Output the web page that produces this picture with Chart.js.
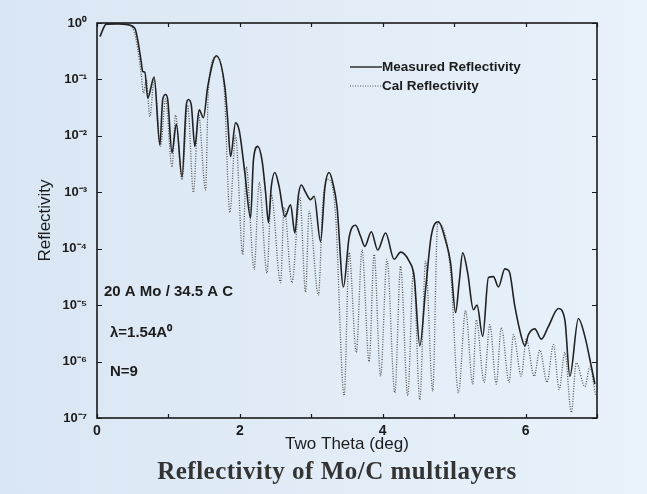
<!DOCTYPE html>
<html>
<head>
<meta charset="utf-8">
<script src="https://cdn.jsdelivr.net/npm/chart.js@4.4.0/dist/chart.umd.min.js"></script>
<style>
  html, body { margin: 0; padding: 0; background: #e2ecf6; }
  canvas { display: block; }
</style>
</head>
<body>
<canvas id="xrr" width="647" height="494"></canvas>
<script>
// two theta (deg) / reflectivity
const measTheta = [
  0.04, 0.13, 0.30, 0.43, 0.53, 0.57, 0.62, 0.64, 0.67, 0.71,
  0.80, 0.88, 0.92, 0.96, 0.99, 1.05, 1.11, 1.19, 1.25, 1.28,
  1.32, 1.37, 1.43, 1.49, 1.55, 1.67, 1.79, 1.83, 1.87, 1.94,
  1.99, 2.07, 2.15, 2.19, 2.25, 2.31, 2.36, 2.40, 2.44, 2.49,
  2.55, 2.63, 2.71, 2.77, 2.82, 2.86, 2.92, 2.99, 3.04, 3.13,
  3.19, 3.25, 3.30, 3.36, 3.45, 3.53, 3.62, 3.69, 3.75, 3.84,
  3.93, 4.04, 4.16, 4.25, 4.37, 4.44, 4.52, 4.60, 4.68, 4.78,
  4.88, 4.95, 5.02, 5.07, 5.12, 5.19, 5.27, 5.32, 5.40, 5.48,
  5.55, 5.62, 5.71, 5.77, 5.85, 5.94, 5.99, 6.04, 6.13, 6.22,
  6.32, 6.46, 6.55, 6.62, 6.74, 6.83, 6.90, 6.97];
const measR = [
  0.575, 0.955, 0.96, 0.93, 0.81, 0.5, 0.2, 0.138, 0.135, 0.047,
  0.11, 0.0069, 0.044, 0.054, 0.044, 0.005, 0.0162, 0.00186, 0.035, 0.044,
  0.035, 0.0065, 0.029, 0.021, 0.074, 0.263, 0.074, 0.019, 0.0043, 0.017,
  0.0126, 0.0022, 3.5e-4, 3.7e-3, 6.5e-3, 3.7e-3, 1e-3, 2.9e-4, 1.26e-3, 2.24e-3,
  1.26e-3, 3.7e-4, 6.0e-4, 1.9e-4, 8.9e-4, 1.35e-3, 1e-3, 7.4e-4, 8.5e-4, 1.35e-4,
  1.2e-3, 2.24e-3, 1.5e-3, 5.6e-4, 2.1e-5, 1.6e-4, 2.6e-4, 1.66e-4, 1.1e-4, 2.0e-4,
  9.5e-5, 1.9e-4, 6.5e-5, 8.7e-5, 6.0e-5, 3.2e-5, 1.9e-6, 1.9e-5, 1.7e-4, 3.0e-4,
  1.4e-4, 5.6e-5, 7.4e-6, 2.5e-5, 8.5e-5, 3.7e-5, 8.3e-6, 1e-5, 2.8e-6, 3.1e-5,
  3.2e-5, 2.1e-5, 4.4e-5, 4.0e-5, 9.5e-6, 2.8e-6, 1.9e-6, 3.0e-6, 3.8e-6, 2.5e-6,
  4.2e-6, 8.7e-6, 5.5e-6, 5.5e-7, 5.8e-6, 2.8e-6, 1.1e-6, 4.0e-7];

const calTheta = [
  0.05, 0.13, 0.30, 0.43, 0.52, 0.57, 0.62, 0.65, 0.69, 0.74,
  0.80, 0.89, 0.96, 1.05, 1.10, 1.19, 1.27, 1.35, 1.42, 1.52,
  1.56, 1.67, 1.78, 1.86, 1.94, 2.04, 2.09, 2.20, 2.27, 2.38,
  2.44, 2.57, 2.62, 2.73, 2.84, 2.92, 2.97, 3.10, 3.16, 3.22,
  3.28, 3.34, 3.46, 3.53, 3.63, 3.71, 3.81, 3.88, 3.97, 4.06,
  4.17, 4.25, 4.35, 4.43, 4.52, 4.60, 4.70, 4.77, 4.95, 5.06,
  5.16, 5.26, 5.31, 5.42, 5.50, 5.59, 5.66, 5.77, 5.83, 5.94,
  6.01, 6.12, 6.20, 6.30, 6.39, 6.47, 6.55, 6.64, 6.71, 6.83,
  6.90, 6.98];
const calR = [
  0.6, 0.96, 0.99, 0.95, 0.7, 0.35, 0.12, 0.057, 0.1, 0.022,
  0.1, 0.0066, 0.045, 0.0028, 0.0234, 0.00166, 0.035, 0.001, 0.025, 0.0011,
  0.07, 0.25, 0.07, 4.4e-4, 0.01, 7.9e-5, 0.0028, 4.3e-5, 0.0015, 3.7e-5,
  9e-4, 2.5e-5, 5.4e-4, 2.5e-5, 8e-4, 1.7e-5, 4.6e-4, 1.5e-5, 6e-4, 0.0017,
  1.5e-3, 4e-4, 2.5e-7, 8.5e-5, 1.45e-6, 9.5e-5, 1e-6, 7.9e-5, 5.5e-7, 6.5e-5,
  2.8e-7, 4.9e-5, 2.5e-7, 4e-5, 2.1e-7, 6e-5, 3e-7, 2.9e-4, 4e-5, 2.8e-7,
  8e-6, 4e-7, 5.5e-6, 4.3e-7, 4.5e-6, 4e-7, 4e-6, 4.3e-7, 3e-6, 5.5e-7,
  2.5e-6, 5.5e-7, 1.6e-6, 4.3e-7, 2e-6, 3.2e-7, 1.45e-6, 1.25e-7, 9.5e-7, 3.6e-7,
  8e-7, 2.5e-7];

const yTickValues = [1, 1e-1, 1e-2, 1e-3, 1e-4, 1e-5, 1e-6, 1e-7];
const yTickLabels = ["10⁰", "10⁻¹", "10⁻²", "10⁻³", "10⁻⁴", "10⁻⁵", "10⁻⁶", "10⁻⁷"];
const xTickLabels = { 0: "0", 2: "2", 4: "4", 6: "6" };
const seriesNames = ["Measured Reflectivity", "Cal Reflectivity"];
const sampleNotes = ["20 A Mo / 34.5 A C", "λ=1.54A⁰", "N=9"];
const bottomTitle = "Reflectivity of Mo/C multilayers";

const ink = "#1c1c1c";
const sans = "'Liberation Sans', Arial, sans-serif";

function toPoints(xs, ys) {
  return xs.map((x, i) => ({ x: x, y: ys[i] }));
}

// paper background, box frame, inward ticks, legend and notes
const paperPlugin = {
  id: "paper",
  beforeDraw(chart) {
    const c = chart.ctx;
    const g = c.createLinearGradient(0, 0, chart.width, 0);
    g.addColorStop(0, "#d9e6f3");
    g.addColorStop(1, "#e9f2fb");
    c.save();
    c.fillStyle = g;
    c.fillRect(0, 0, chart.width, chart.height);
    c.restore();
  },
  afterDraw(chart) {
    const c = chart.ctx;
    const a = chart.chartArea;
    const sx = chart.scales.x, sy = chart.scales.y;
    c.save();
    c.strokeStyle = "#1a1a1a";
    c.lineWidth = 1.6;
    c.strokeRect(a.left, a.top, a.right - a.left, a.bottom - a.top);

    c.lineWidth = 1.2;
    c.beginPath();
    sx.ticks.forEach(t => {
      const px = Math.round(sx.getPixelForValue(t.value)) + 0.5;
      c.moveTo(px, a.bottom); c.lineTo(px, a.bottom - 4);
      c.moveTo(px, a.top); c.lineTo(px, a.top + 4);
    });
    sy.ticks.forEach(t => {
      const py = Math.round(sy.getPixelForValue(t.value)) + 0.5;
      c.moveTo(a.left, py); c.lineTo(a.left + 5, py);
      c.moveTo(a.right, py); c.lineTo(a.right - 5, py);
    });
    c.stroke();

    // legend
    const ds = chart.data.datasets;
    c.font = "bold 13.5px " + sans;
    c.textBaseline = "middle";
    c.fillStyle = ink;
    [67, 86].forEach((ly, i) => {
      c.beginPath();
      c.strokeStyle = ds[i].borderColor;
      c.lineWidth = i === 0 ? 1.4 : 1.2;
      c.setLineDash(i === 0 ? [] : [1, 1.5]);
      c.moveTo(350, ly); c.lineTo(382, ly);
      c.stroke();
      c.setLineDash([]);
      c.fillText(seriesNames[i], 382, ly);
    });

    // sample notes
    c.font = "bold 15px " + sans;
    c.fillText(sampleNotes[0], 104, 292);
    c.fillText(sampleNotes[1], 110, 333);
    c.fillText(sampleNotes[2], 110, 372);

    // caption
    c.font = "bold 25px 'Liberation Serif', 'Times New Roman', serif";
    c.letterSpacing = "0.5px";
    c.fillStyle = "#333";
    c.textAlign = "center";
    c.fillText(bottomTitle, 337, 473);
    c.restore();
  }
};

new Chart(document.getElementById("xrr"), {
  type: "line",
  data: {
    datasets: [
      {
        label: seriesNames[0],
        data: toPoints(measTheta, measR),
        borderColor: "#222",
        borderWidth: 1.6,
        pointRadius: 0,
        cubicInterpolationMode: "monotone",
        fill: false
      },
      {
        label: seriesNames[1],
        data: toPoints(calTheta, calR),
        borderColor: "#555",
        borderWidth: 1.3,
        borderDash: [1, 1.5],
        pointRadius: 0,
        cubicInterpolationMode: "monotone",
        fill: false
      }
    ]
  },
  options: {
    responsive: false,
    animation: false,
    layout: { padding: { top: 23, right: 50, left: 0, bottom: 0 } },
    plugins: {
      legend: { display: false },
      tooltip: { enabled: false }
    },
    scales: {
      x: {
        type: "linear",
        min: 0,
        max: 7,
        grid: { display: false, drawTicks: false },
        border: { display: false },
        ticks: {
          stepSize: 1,
          autoSkip: false,
          maxRotation: 0,
          padding: 5,
          color: ink,
          font: { family: sans, size: 14, weight: "bold" },
          callback: v => xTickLabels[v] || ""
        },
        title: {
          display: true,
          text: "Two Theta (deg)",
          color: ink,
          font: { family: sans, size: 17 },
          padding: { top: 0, bottom: 39 }
        },
        afterFit: s => { s.height = 76; }
      },
      y: {
        type: "logarithmic",
        min: 1e-7,
        max: 1,
        grid: { display: false, drawTicks: false },
        border: { display: false },
        afterBuildTicks: s => { s.ticks = yTickValues.map(v => ({ value: v })); },
        ticks: {
          padding: 10,
          color: ink,
          font: { family: sans, size: 13, weight: "bold" },
          callback: v => yTickLabels[Math.round(-Math.log10(v))]
        },
        title: {
          display: true,
          text: "Reflectivity",
          color: ink,
          font: { family: sans, size: 17 },
          padding: { top: 35, bottom: 0 }
        },
        afterFit: s => { s.width = 97; }
      }
    }
  },
  plugins: [paperPlugin]
});
</script>
</body>
</html>
